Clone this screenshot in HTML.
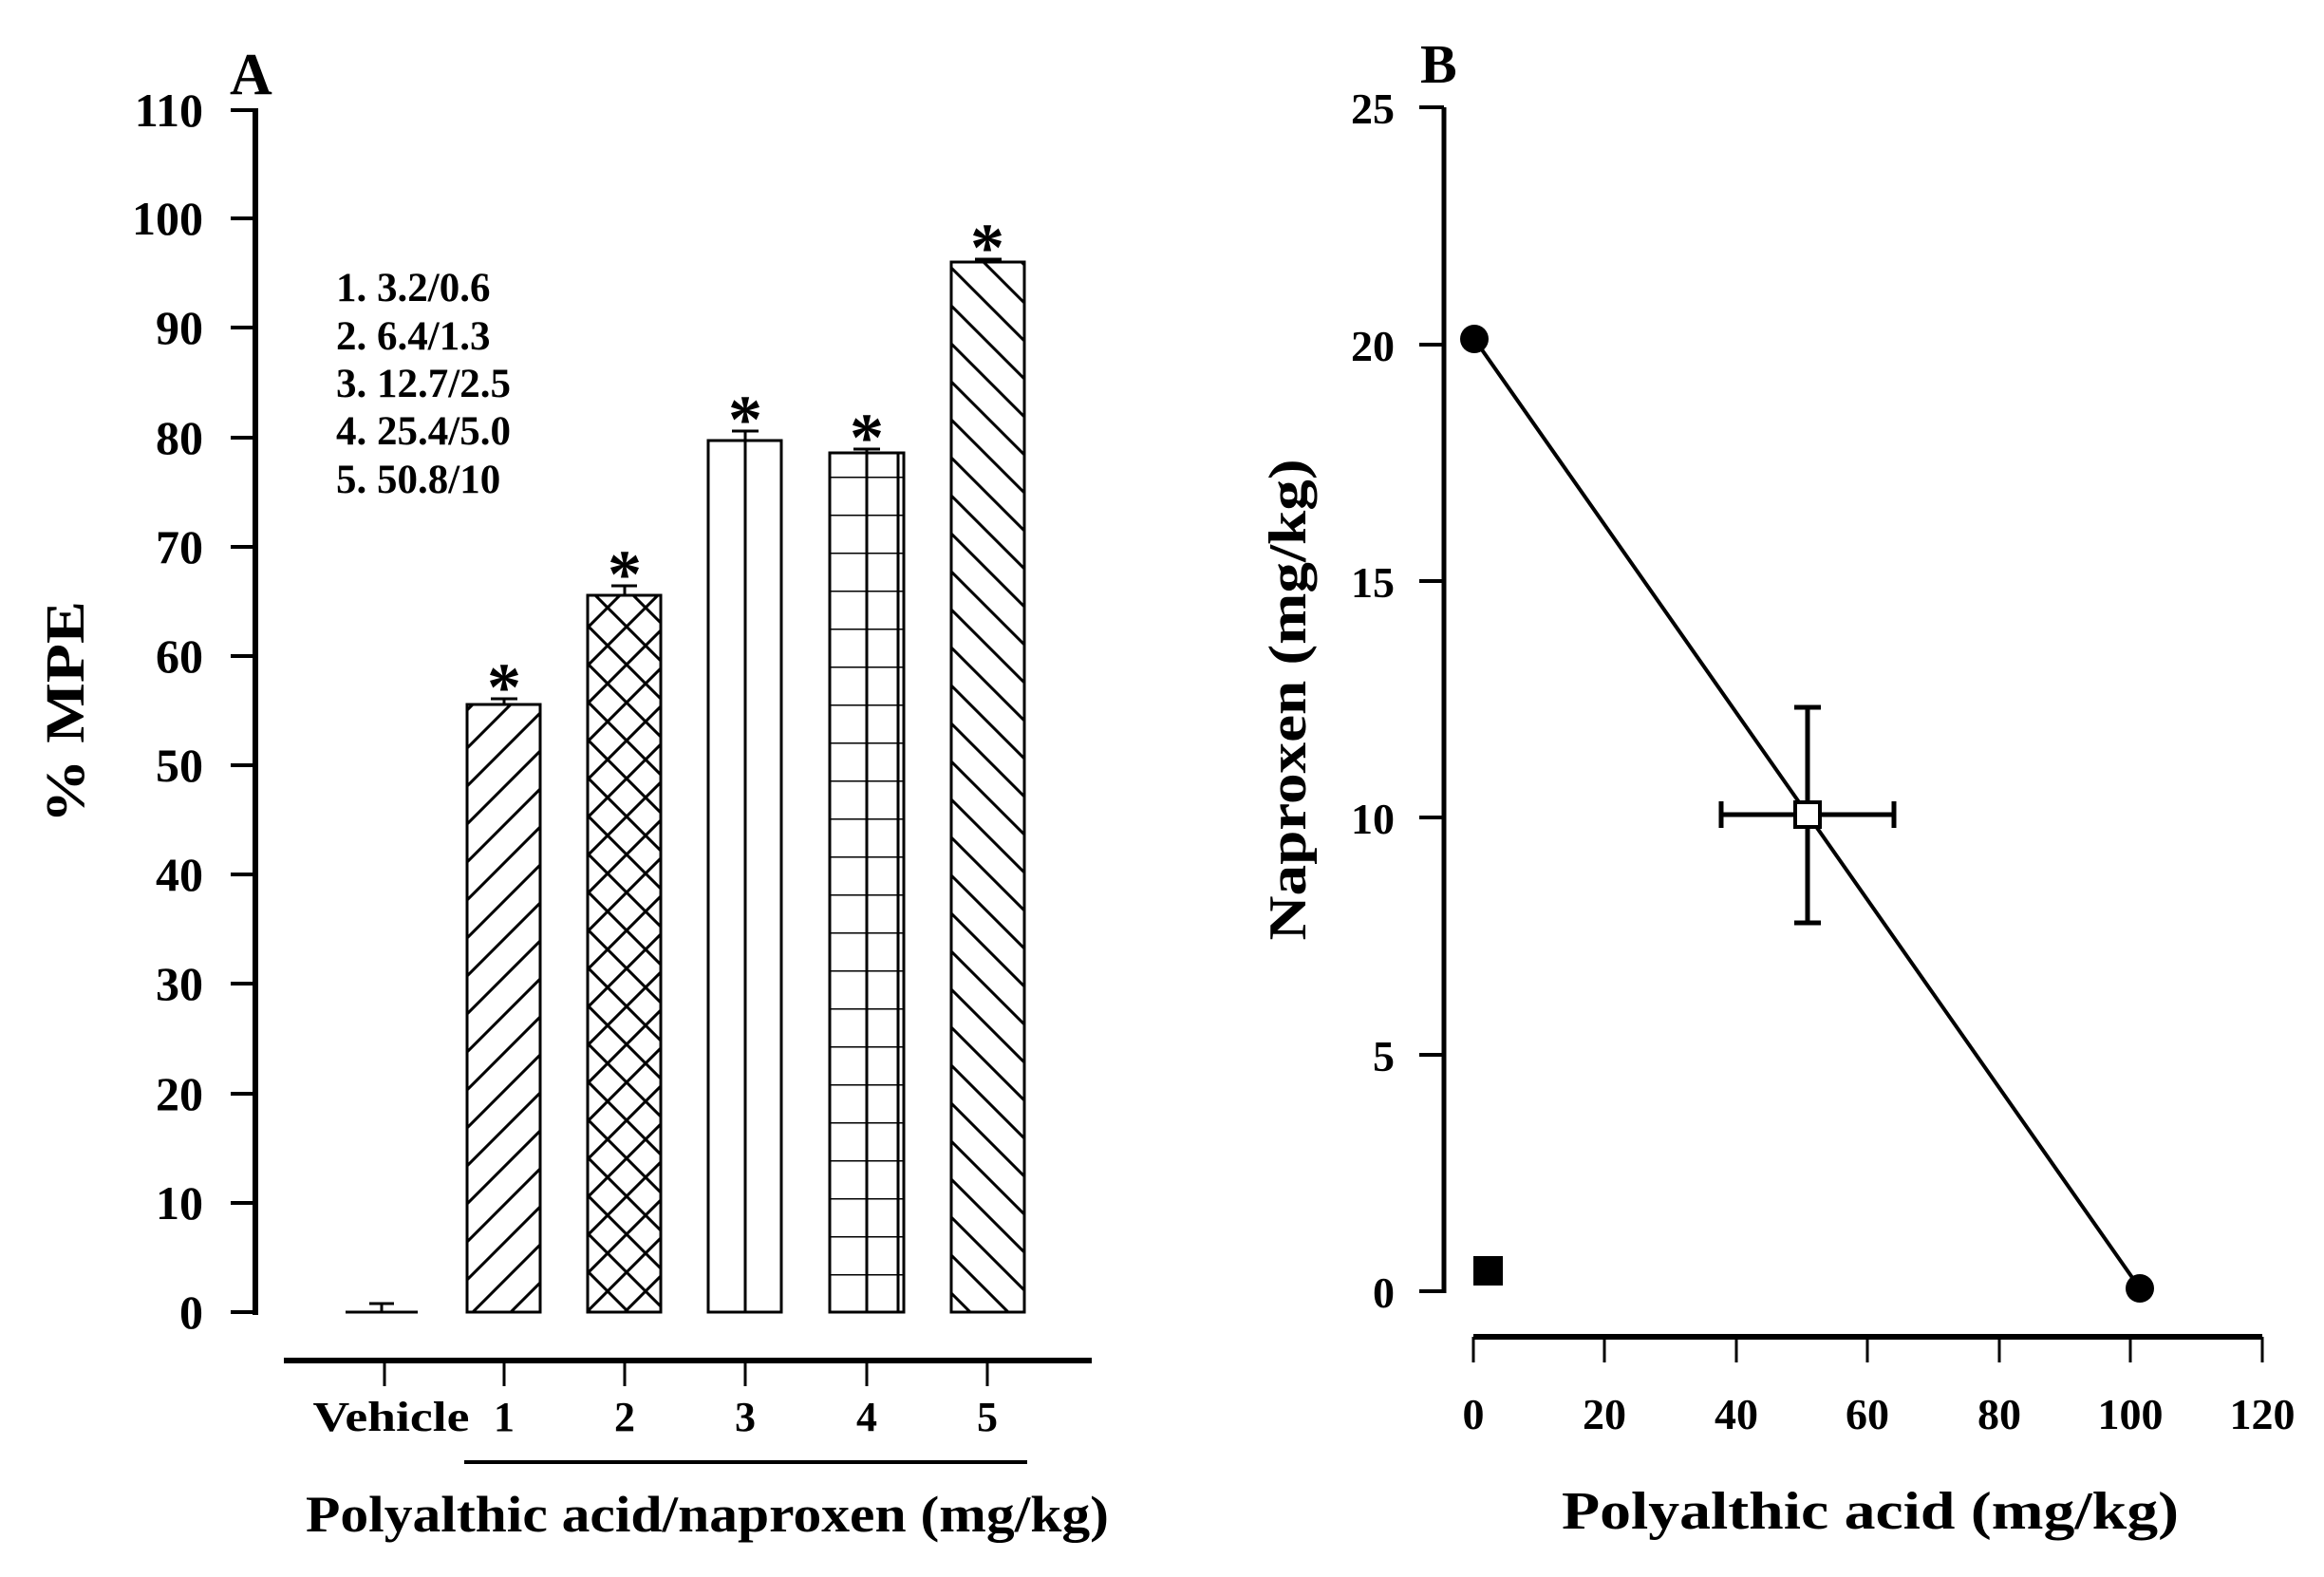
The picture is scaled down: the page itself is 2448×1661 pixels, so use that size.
<!DOCTYPE html>
<html><head><meta charset="utf-8"><style>html,body{margin:0;padding:0;background:#fff}svg{display:block}text{font-family:"Liberation Serif",serif;font-weight:bold;fill:#000}</style></head><body>
<svg width="2448" height="1661" viewBox="0 0 2448 1661" xmlns="http://www.w3.org/2000/svg">
<defs>
<pattern id="p1" patternUnits="userSpaceOnUse" width="40" height="40"><path d="M-10,10 L10,-10 M0,40 L40,0 M30,50 L50,30" stroke="#000" stroke-width="3"/></pattern>
<pattern id="p5" patternUnits="userSpaceOnUse" width="40" height="40"><path d="M-10,30 L10,50 M0,0 L40,40 M30,-10 L50,10" stroke="#000" stroke-width="3"/></pattern>
<pattern id="p2" patternUnits="userSpaceOnUse" width="40" height="40"><path d="M-10,10 L10,-10 M0,40 L40,0 M30,50 L50,30 M-10,30 L10,50 M0,0 L40,40 M30,-10 L50,10" stroke="#000" stroke-width="3"/></pattern>
<pattern id="p4" patternUnits="userSpaceOnUse" x="0" y="1382" width="400" height="40"><path d="M0,0 L400,0" stroke="#000" stroke-width="3"/></pattern>
</defs>
<g stroke="#000" fill="none" stroke-width="3">
<line x1="269" y1="114" x2="269" y2="1385" stroke-width="6"/>
<g stroke-width="4">
<line x1="243" y1="1382" x2="269" y2="1382"/><line x1="243" y1="1267" x2="269" y2="1267"/><line x1="243" y1="1152" x2="269" y2="1152"/><line x1="243" y1="1036" x2="269" y2="1036"/><line x1="243" y1="921" x2="269" y2="921"/><line x1="243" y1="806" x2="269" y2="806"/><line x1="243" y1="691" x2="269" y2="691"/><line x1="243" y1="576" x2="269" y2="576"/><line x1="243" y1="461" x2="269" y2="461"/><line x1="243" y1="345" x2="269" y2="345"/><line x1="243" y1="230" x2="269" y2="230"/><line x1="243" y1="116" x2="269" y2="116"/>
</g>
<line x1="299" y1="1433" x2="1150" y2="1433" stroke-width="6"/>
<line x1="405" y1="1436" x2="405" y2="1460"/><line x1="531" y1="1436" x2="531" y2="1460"/><line x1="658" y1="1436" x2="658" y2="1460"/><line x1="785" y1="1436" x2="785" y2="1460"/><line x1="913" y1="1436" x2="913" y2="1460"/><line x1="1040" y1="1436" x2="1040" y2="1460"/>
<line x1="489" y1="1540" x2="1082" y2="1540" stroke-width="4"/>
<line x1="364" y1="1382" x2="440" y2="1382"/><line x1="402" y1="1382" x2="402" y2="1373"/><line x1="389" y1="1373" x2="415" y2="1373"/>
<rect x="492" y="742" width="77" height="640" fill="url(#p1)"/>
<line x1="531" y1="742" x2="531" y2="736"/><line x1="517" y1="736" x2="545" y2="736"/>
<rect x="619" y="627" width="77" height="755" fill="url(#p2)"/>
<line x1="658" y1="627" x2="658" y2="617"/><line x1="644" y1="617" x2="671" y2="617"/>
<rect x="746" y="464" width="77" height="918"/><line x1="785" y1="464" x2="785" y2="1382"/>
<line x1="785" y1="464" x2="785" y2="454"/><line x1="771" y1="454" x2="799" y2="454"/>
<rect x="874" y="477" width="78" height="905" fill="url(#p4)"/><line x1="913" y1="477" x2="913" y2="1382"/><line x1="946" y1="477" x2="946" y2="1382"/>
<line x1="913" y1="477" x2="913" y2="473"/><line x1="899" y1="473" x2="927" y2="473"/>
<rect x="1002" y="276" width="77" height="1106" fill="url(#p5)"/>
<line x1="1027" y1="273" x2="1055" y2="273"/>
<line x1="1521" y1="113" x2="1521" y2="1362" stroke-width="5"/>
<g stroke-width="4"><line x1="1495" y1="113" x2="1521" y2="113"/><line x1="1495" y1="363" x2="1521" y2="363"/><line x1="1495" y1="612" x2="1521" y2="612"/><line x1="1495" y1="861" x2="1521" y2="861"/><line x1="1495" y1="1111" x2="1521" y2="1111"/><line x1="1495" y1="1360" x2="1521" y2="1360"/></g>
<line x1="1552" y1="1408" x2="2383" y2="1408" stroke-width="6"/>
<line x1="1552" y1="1408" x2="1552" y2="1435"/><line x1="1690" y1="1408" x2="1690" y2="1435"/><line x1="1829" y1="1408" x2="1829" y2="1435"/><line x1="1967" y1="1408" x2="1967" y2="1435"/><line x1="2106" y1="1408" x2="2106" y2="1435"/><line x1="2244" y1="1408" x2="2244" y2="1435"/><line x1="2383" y1="1408" x2="2383" y2="1435"/>
<line x1="1553" y1="357" x2="2254" y2="1357" stroke-width="4"/>
<g stroke-width="5"><line x1="1813" y1="858" x2="1995" y2="858"/><line x1="1813" y1="844" x2="1813" y2="872"/><line x1="1995" y1="844" x2="1995" y2="872"/><line x1="1904" y1="745" x2="1904" y2="972"/><line x1="1890" y1="745" x2="1918" y2="745"/><line x1="1890" y1="972" x2="1918" y2="972"/></g>
<rect x="1891" y="845" width="26" height="26" fill="#fff" stroke-width="4"/>
</g>
<ellipse cx="1553" cy="357" rx="15" ry="15" fill="#000"/>
<ellipse cx="2254" cy="1357" rx="15" ry="15" fill="#000"/>
<rect x="1552" y="1323" width="31" height="31" fill="#000"/>
<text x="242" y="99" font-size="62">A</text>
<g font-size="50" text-anchor="end">
<text x="214" y="1399">0</text><text x="214" y="1284">10</text><text x="214" y="1169">20</text><text x="214" y="1053">30</text><text x="214" y="938">40</text><text x="214" y="823">50</text><text x="214" y="708">60</text><text x="214" y="593">70</text><text x="214" y="478">80</text><text x="214" y="362">90</text><text x="214" y="247">100</text><text x="214" y="133">110</text>
</g>
<text transform="translate(88,750) rotate(-90)" font-size="58" text-anchor="middle" textLength="234" lengthAdjust="spacingAndGlyphs">% MPE</text>
<g font-size="43">
<text x="354" y="317">1. 3.2/0.6</text><text x="354" y="368">2. 6.4/1.3</text><text x="354" y="418">3. 12.7/2.5</text><text x="354" y="468">4. 25.4/5.0</text><text x="354" y="519">5. 50.8/10</text>
</g>
<g font-size="72" text-anchor="middle">
<text x="531" y="748">*</text><text x="658" y="629">*</text><text x="785" y="466">*</text><text x="913" y="485">*</text><text x="1040" y="285">*</text>
</g>
<g font-size="44" text-anchor="middle">
<text x="412" y="1507" textLength="165" lengthAdjust="spacingAndGlyphs">Vehicle</text><text x="531" y="1507">1</text><text x="658" y="1507">2</text><text x="785" y="1507">3</text><text x="913" y="1507">4</text><text x="1040" y="1507">5</text>
</g>
<text x="322" y="1613" font-size="54" textLength="846" lengthAdjust="spacingAndGlyphs">Polyalthic acid/naproxen (mg/kg)</text>
<text x="1496" y="87" font-size="58">B</text>
<g font-size="46" text-anchor="end">
<text x="1469" y="1377">0</text><text x="1469" y="1128">5</text><text x="1469" y="878">10</text><text x="1469" y="629">15</text><text x="1469" y="380">20</text><text x="1469" y="130">25</text>
</g>
<g font-size="46" text-anchor="middle">
<text x="1552" y="1505">0</text><text x="1690" y="1505">20</text><text x="1829" y="1505">40</text><text x="1967" y="1505">60</text><text x="2106" y="1505">80</text><text x="2244" y="1505">100</text><text x="2383" y="1505">120</text>
</g>
<text transform="translate(1375,737) rotate(-90)" font-size="56" text-anchor="middle" textLength="507" lengthAdjust="spacingAndGlyphs">Naproxen (mg/kg)</text>
<text x="1645" y="1610" font-size="56" textLength="650" lengthAdjust="spacingAndGlyphs">Polyalthic acid (mg/kg)</text>
</svg>
</body></html>
